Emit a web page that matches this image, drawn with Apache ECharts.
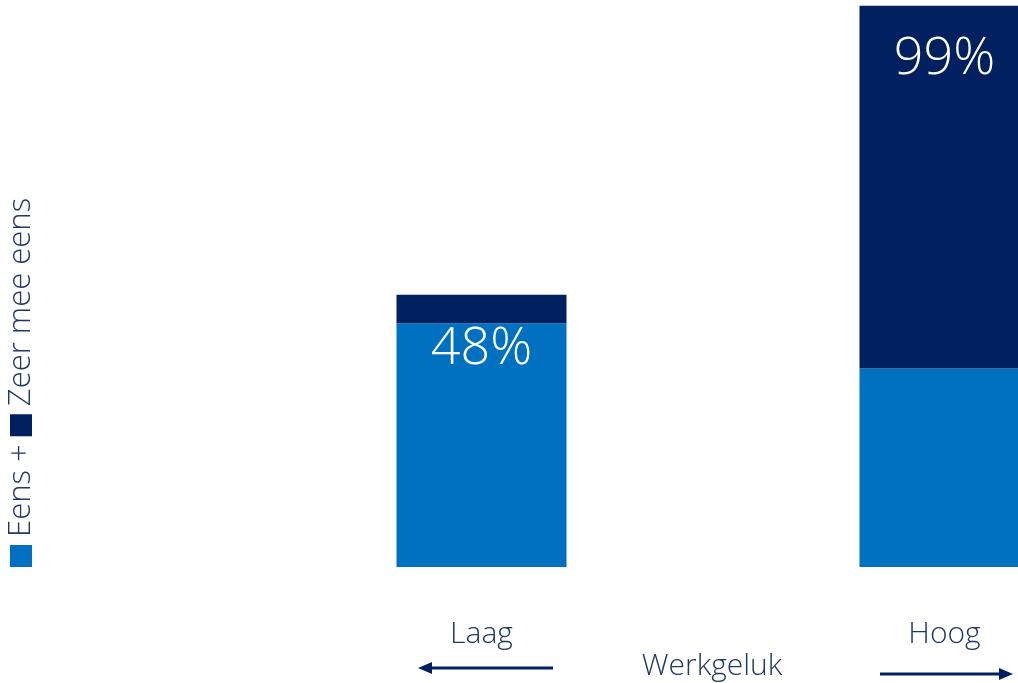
<!DOCTYPE html>
<html>
<head>
<meta charset="utf-8">
<script src="https://cdn.jsdelivr.net/npm/echarts@6/dist/echarts.min.js"></script>
<style>
  html, body { margin: 0; padding: 0; background: #ffffff; }
  #chart { width: 1018px; height: 683px; }
</style>
</head>
<body>
<div id="chart"></div>
<script>
// Werkgeluk groups and agreement shares (percent)
const categories = ['Laag', 'Hoog'];
const eens = [43, 35];          // "Eens"
const zeerMeeEens = [5, 64];    // "Zeer mee eens"
const totals = categories.map((_, i) => eens[i] + zeerMeeEens[i]);

const LIGHT = '#0070C0';
const DARK = '#002060';
const TEXT = '#203864';
const FONT = '"Open Sans", "Noto Sans", sans-serif';

const chart = echarts.init(document.getElementById('chart'), null, { renderer: 'canvas' });

function arrow(x1, x2, y) {
  // horizontal shaft plus a triangular head at x2
  const dir = x2 > x1 ? 1 : -1;
  return [
    { type: 'line', shape: { x1: x1, y1: y, x2: x2 - dir * 10, y2: y },
      style: { stroke: DARK, lineWidth: 3 } },
    { type: 'polygon', shape: { points: [[x2, y], [x2 - dir * 14, y - 6], [x2 - dir * 14, y + 6]] },
      style: { fill: DARK } }
  ];
}

chart.setOption({
  animation: false,
  // the plot area runs past the right edge, so the second bar is cut off
  grid: { left: 250, width: 926, top: 0, bottom: 116, containLabel: false, outerBoundsMode: 'none' },
  xAxis: {
    type: 'category',
    data: categories,
    axisLine: { show: false },
    axisTick: { show: false },
    axisLabel: { color: TEXT, fontFamily: FONT, fontSize: 30, fontWeight: 300, margin: 52 }
  },
  yAxis: {
    type: 'value',
    min: 0,
    max: 100,
    show: false
  },
  series: [
    {
      name: 'Eens',
      type: 'bar',
      stack: 'total',
      barWidth: 170,
      data: eens,
      itemStyle: { color: LIGHT }
    },
    {
      name: 'Zeer mee eens',
      type: 'bar',
      stack: 'total',
      barWidth: 170,
      data: zeerMeeEens,
      itemStyle: { color: DARK },
      label: {
        show: true,
        position: 'insideTop',
        distance: 28,
        color: '#ffffff',
        fontFamily: FONT,
        fontSize: 52,
        fontWeight: 300,
        formatter: p => totals[p.dataIndex] + '%'
      }
    }
  ],
  graphic: [
    {
      type: 'text',
      x: 21,
      y: 567,
      rotation: Math.PI / 2,
      style: {
        text: '{a|} Eens + {b|} Zeer mee eens',
        align: 'left',
        verticalAlign: 'middle',
        fill: TEXT,
        font: '300 31px ' + FONT,
        rich: {
          a: { backgroundColor: LIGHT, width: 22, height: 22 },
          b: { backgroundColor: DARK, width: 22, height: 22 }
        }
      }
    },
    {
      type: 'text',
      x: 712,
      y: 666,
      style: {
        text: 'Werkgeluk',
        align: 'center',
        verticalAlign: 'middle',
        fill: TEXT,
        font: '300 30px ' + FONT
      }
    },
    ...arrow(553, 418, 668),
    ...arrow(880, 1013, 674)
  ]
});
</script>
</body>
</html>
